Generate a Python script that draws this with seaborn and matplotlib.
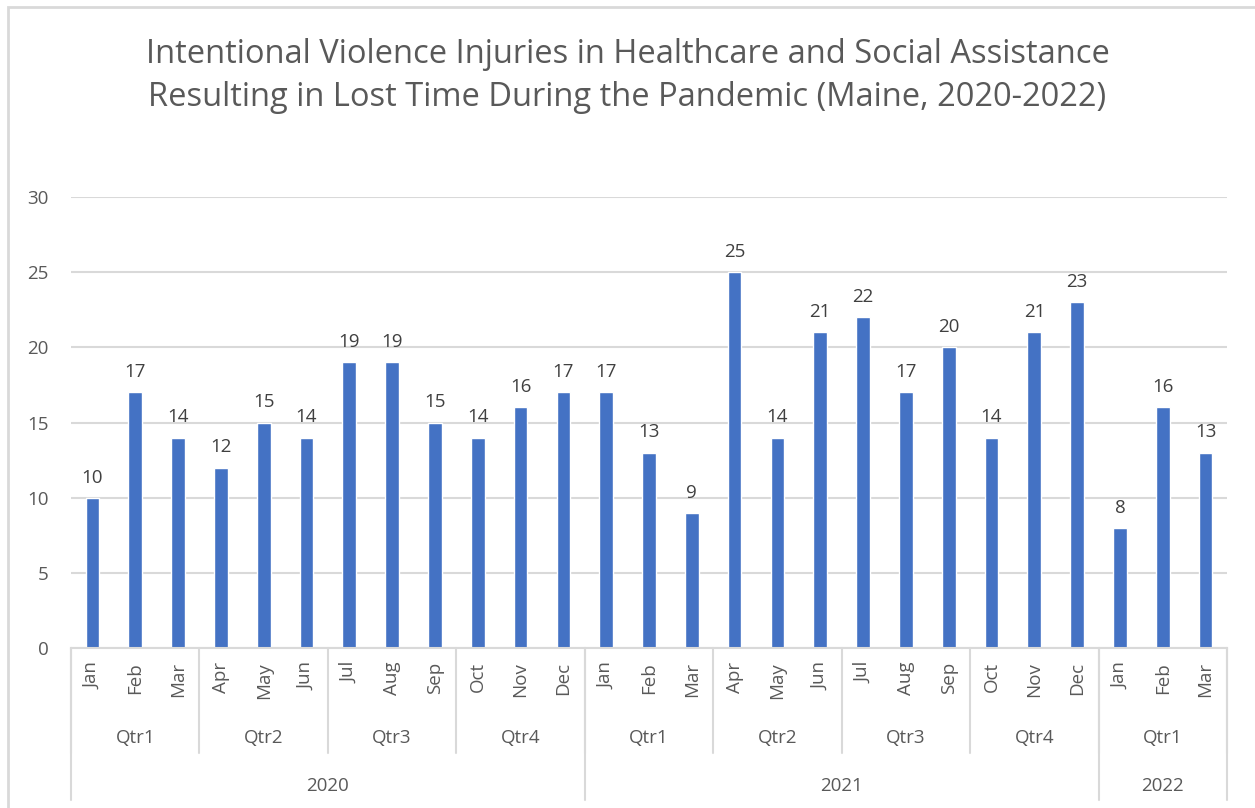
import pandas as pd
import seaborn as sns
import matplotlib.pyplot as plt
from matplotlib.patches import Rectangle
from matplotlib.transforms import blended_transform_factory

# dados
months = ['Jan', 'Feb', 'Mar', 'Apr', 'May', 'Jun', 'Jul', 'Aug', 'Sep', 'Oct', 'Nov', 'Dec',
          'Jan', 'Feb', 'Mar', 'Apr', 'May', 'Jun', 'Jul', 'Aug', 'Sep', 'Oct', 'Nov', 'Dec',
          'Jan', 'Feb', 'Mar']
quarters = ['Qtr1', 'Qtr2', 'Qtr3', 'Qtr4', 'Qtr1', 'Qtr2', 'Qtr3', 'Qtr4', 'Qtr1']
years = ['2020', '2021', '2022']
year_months = [12, 12, 3]
injuries = [10, 17, 14, 12, 15, 14, 19, 19, 15, 14, 16, 17,
            17, 13, 9, 25, 14, 21, 22, 17, 20, 14, 21, 23,
            8, 16, 13]

periods = []
for y, n in zip(years, year_months):
    periods += [f'{y}-{i}' for i in range(n)]
df = pd.DataFrame({'period': periods, 'injuries': injuries})

sns.set_style('white')
plt.rcParams['font.family'] = ['Open Sans', 'DejaVu Sans']
txt = '#595959'
fs = 13.5

fig = plt.figure(figsize=(12.55, 8.08), dpi=100)
ax = fig.add_axes([71 / 1255, 1 - 648 / 808, 1156 / 1255, 451 / 808])

sns.barplot(data=df, x='period', y='injuries', color='#4472C4', width=0.32,
            saturation=1, ax=ax)
ax.bar_label(ax.containers[0], padding=8, fontsize=fs, color='#404040')

ax.set_ylim(0, 30)
ax.set_xlim(-0.5, len(injuries) - 0.5)
ax.set_yticks(range(0, 31, 5))
ax.yaxis.grid(True, color='#d9d9d9', linewidth=1.5)
ax.set_axisbelow(True)
for s in ['top', 'right', 'left']:
    ax.spines[s].set_visible(False)
ax.spines['bottom'].set_color('#d9d9d9')
ax.spines['bottom'].set_linewidth(1.5)
ax.set_xlabel('')
ax.set_ylabel('')
ax.set_xticks(range(len(months)))
ax.set_xticklabels(months, rotation=90, va='top')
ax.tick_params(axis='x', length=0, pad=10, labelsize=fs, labelcolor=txt)
ax.tick_params(axis='y', length=0, pad=16, labelsize=fs, labelcolor=txt)

# eixo hierarquico (trimestres e anos)
tr = blended_transform_factory(ax.transData, ax.transAxes)
line = dict(color='#d9d9d9', linewidth=1.5, clip_on=False, transform=tr)
ppx = 1 / 451  # um pixel em coordenadas do eixo
for i, q in enumerate(quarters):
    ax.text(i * 3 + 1, -90 * ppx, q, ha='center', va='center', fontsize=fs,
            color=txt, transform=tr)
start = 0
for y, n in zip(years, year_months):
    ax.text(start + (n - 1) / 2, -138 * ppx, y, ha='center', va='center',
            fontsize=fs, color=txt, transform=tr)
    start += n
for b in range(0, len(injuries) + 1, 3):
    ax.plot([b - 0.5, b - 0.5], [0, -105 * ppx], **line)
start = 0
for n in [0] + year_months:
    start += n
    ax.plot([start - 0.5, start - 0.5], [0, -152 * ppx], **line)

fig.suptitle('Intentional Violence Injuries in Healthcare and Social Assistance\n'
             'Resulting in Lost Time During the Pandemic (Maine, 2020-2022)',
             y=1 - 76 / 808, va='center', fontsize=23.5, color=txt, linespacing=1.42)

fig.patches.append(Rectangle((8 / 1255, -0.1), 1.2, 1 - 7 / 808 + 0.1,
                             transform=fig.transFigure, fill=False,
                             edgecolor='#d9d9d9', linewidth=2))

fig.savefig('out.png', dpi=100)
